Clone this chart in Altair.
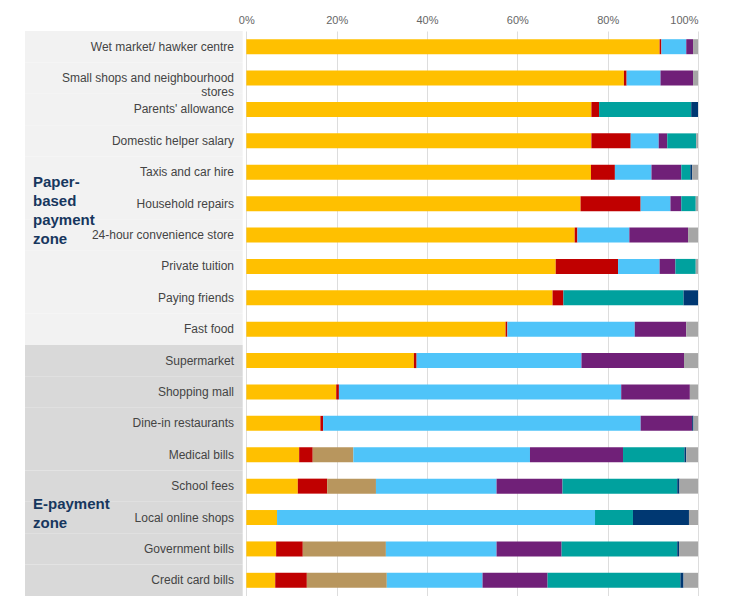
import altair as alt
import pandas as pd

categories = [
    "Wet market/ hawker centre", "Small shops and neighbourhood stores",
    "Parents' allowance", "Domestic helper salary", "Taxis and car hire",
    "Household repairs", "24-hour convenience store", "Private tuition",
    "Paying friends", "Fast food", "Supermarket", "Shopping mall",
    "Dine-in restaurants", "Medical bills", "School fees",
    "Local online shops", "Government bills", "Credit card bills",
]
zones = ["paper"] * 10 + ["e"] * 8

series = ["Cash", "Cheque", "Autopay", "Credit card", "Octopus",
          "Bank transfer", "E-wallet", "Others"]
colors = ["#FFC000", "#C00000", "#B8965E", "#4FC4F9", "#702078",
          "#00A19E", "#003872", "#A6A6A6"]

cash = [91.5, 83.6, 76.4, 76.4, 76.3, 74.0, 72.7, 68.5, 67.8, 57.4,
        37.1, 19.9, 16.4, 11.7, 11.4, 6.8, 6.6, 6.4]
cheque = [0.4, 0.6, 1.7, 8.7, 5.3, 13.3, 0.6, 13.8, 2.4, 0.4,
          0.6, 0.6, 0.6, 3.0, 6.5, 0, 5.9, 7.0]
autopay = [0, 0, 0, 0, 0, 0, 0, 0, 0, 0,
           0, 0, 0, 9.0, 10.8, 0, 18.4, 17.7]
card = [5.5, 7.5, 0, 6.2, 8.1, 6.6, 11.5, 9.2, 0, 28.2,
        36.5, 62.5, 70.3, 39.1, 26.7, 70.4, 24.5, 21.2]
octopus = [1.5, 7.2, 0, 1.9, 6.6, 2.4, 13.0, 3.5, 0, 11.4,
           22.7, 15.2, 11.4, 20.6, 14.6, 0, 14.4, 14.4]
transfer = [0, 0, 20.4, 6.4, 2.0, 3.2, 0, 4.5, 26.6, 0,
            0, 0, 0, 13.6, 25.4, 8.4, 25.6, 29.4]
ewallet = [0, 0, 1.5, 0, 0.4, 0, 0, 0, 3.2, 0,
           0, 0, 0.3, 0.4, 0.5, 12.4, 0.4, 0.7]
others = [1.1, 1.1, 0, 0.4, 1.3, 0.5, 2.2, 0.5, 0, 2.6,
          3.1, 1.8, 1.0, 2.6, 4.1, 2.0, 4.2, 3.2]

values = [cash, cheque, autopay, card, octopus, transfer, ewallet, others]
rows = []
for si, (name, vals) in enumerate(zip(series, values)):
    for cat, v in zip(categories, vals):
        rows.append({"category": cat, "series": name, "order": si, "value": v})
df = pd.DataFrame(rows)

labels = pd.DataFrame({
    "category": categories,
    "zone": zones,
    "label": [c.replace("neighbourhood ", "neighbourhood\n") for c in categories],
})

y = alt.Y("category:N", sort=categories, axis=None,
          scale=alt.Scale(paddingInner=0, paddingOuter=0))
xscale = alt.Scale(domain=[-49, 100], nice=False, zero=False)

panel = alt.Chart(labels).mark_rect().encode(
    y=y,
    x=alt.X("a:Q", scale=xscale, axis=alt.Axis(
        orient="top", values=[0, 20, 40, 60, 80, 100],
        labelExpr="datum.value + '%'", title=None, domain=False, ticks=False,
        labelColor="#666", labelFontSize=11, labelFont="Liberation Sans",
        gridColor="#dddddd", labelPadding=6)),
    x2="b:Q",
    fill=alt.Fill("zone:N", legend=None,
                  scale=alt.Scale(domain=["paper", "e"], range=["#f2f2f2", "#d9d9d9"])),
).transform_calculate(a="-49", b="-0.8")

text = alt.Chart(labels).mark_text(
    align="right", baseline="middle", fontSize=12, color="#444",
    font="Liberation Sans", lineBreak="\n", dx=-7,
).encode(y=y, x=alt.value(216), text="label:N")

bars = alt.Chart(df).mark_bar(size=15).encode(
    y=y,
    x=alt.X("sum(value):Q", scale=xscale, stack="zero"),
    color=alt.Color("series:N", legend=None,
                    scale=alt.Scale(domain=series, range=colors)),
    order=alt.Order("order:Q"),
)

zt = pd.DataFrame({
    "category": ["Taxis and car hire", "School fees"],
    "t": ["Paper-\nbased\npayment\nzone", "E-payment\nzone"],
})
zone_text1 = alt.Chart(zt.iloc[[0]]).mark_text(
    align="left", baseline="middle", fontSize=15, fontWeight="bold",
    color="#17375E", font="Liberation Sans", lineBreak="\n", lineHeight=19, dy=10,
).encode(y=y, x=alt.value(8), text="t:N")
zone_text2 = alt.Chart(zt.iloc[[1]]).mark_text(
    align="left", baseline="middle", fontSize=15, fontWeight="bold",
    color="#17375E", font="Liberation Sans", lineBreak="\n", lineHeight=19, dy=18,
).encode(y=y, x=alt.value(8), text="t:N")

chart = alt.layer(panel, bars, text, zone_text1, zone_text2).properties(
    width=673, height=565,
    padding={"left": 17, "top": 6, "right": 5, "bottom": 0},
).configure_view(strokeWidth=0)

chart.save("out.html", embed_options={"renderer": "svg", "actions": False})
